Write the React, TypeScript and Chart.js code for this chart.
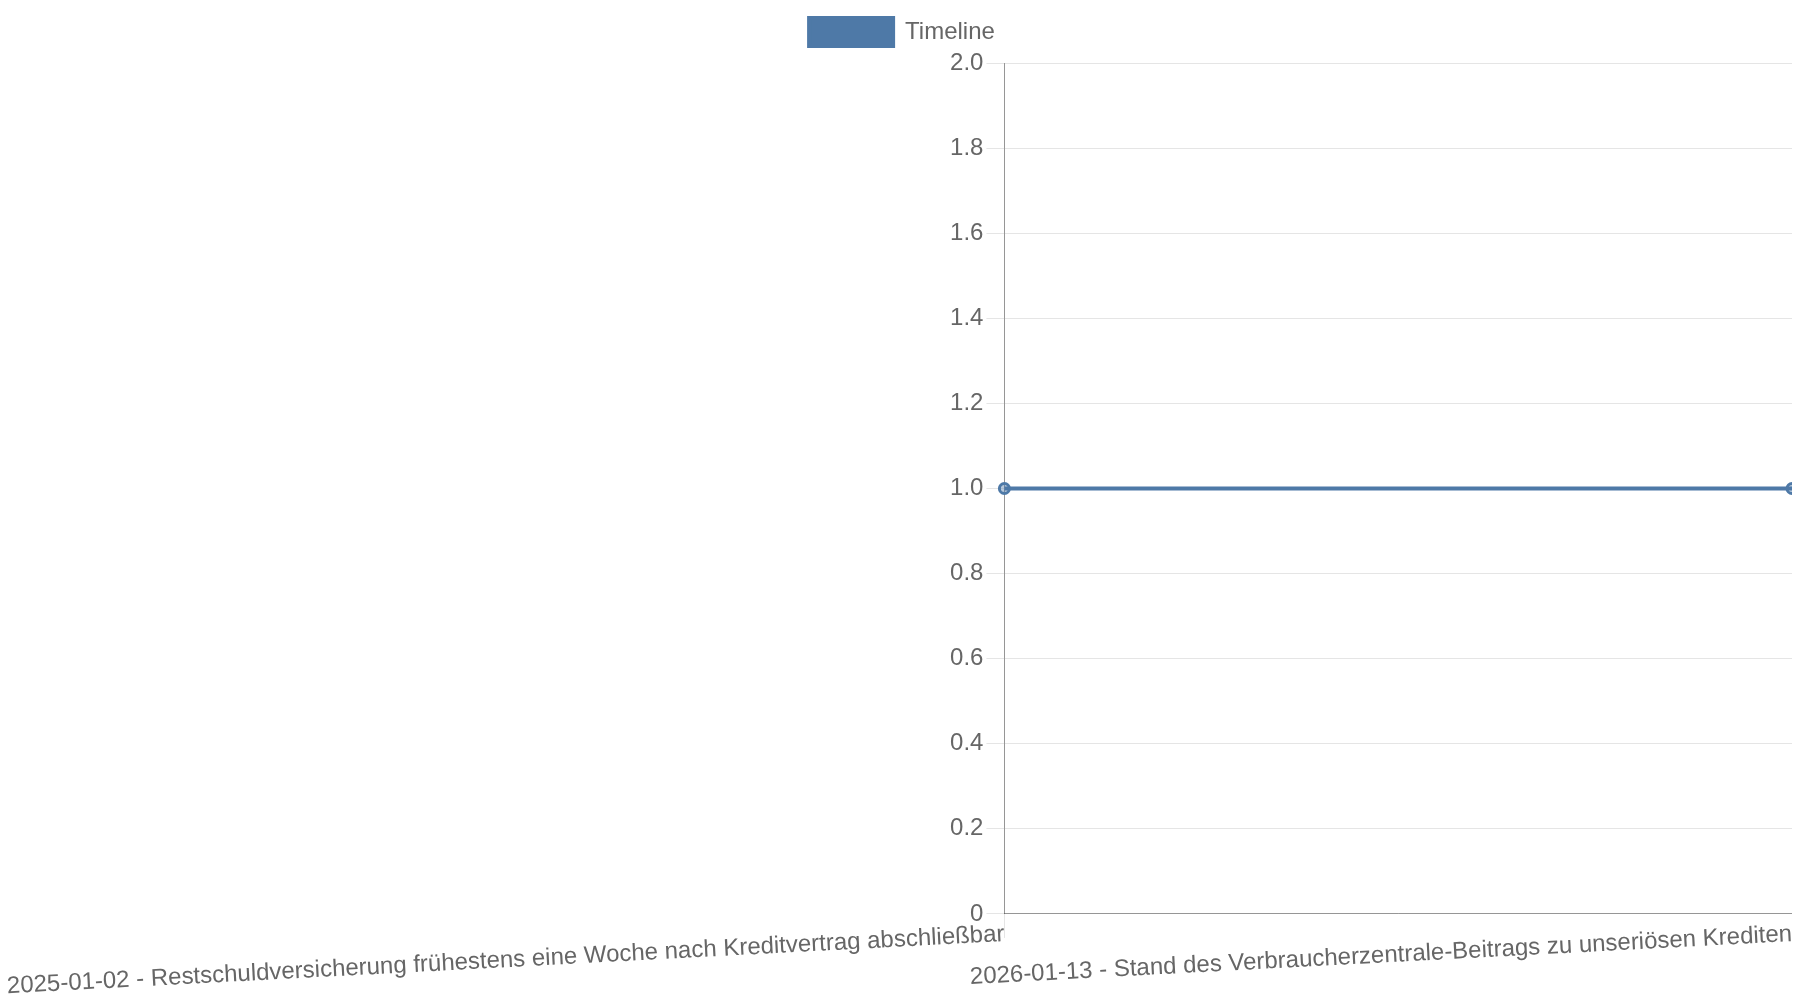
import React, { useEffect, useRef } from "react";
import Chart from "chart.js/auto";

const labels = [
  "2025-01-02 - Restschuldversicherung frühestens eine Woche nach Kreditvertrag abschließbar",
  "2026-01-13 - Stand des Verbraucherzentrale-Beitrags zu unseriösen Krediten",
];
const timelineValues = [1, 1];
const yMin = 0;
const yMax = 2;
const yStep = 0.2;

const blue = "#4e79a7";

// legend in the reference leaves a little more room above the plot
const legendSpace = {
  id: "legendSpace",
  beforeInit(chart: any) {
    const fit = chart.legend.fit;
    chart.legend.fit = function () {
      fit.bind(chart.legend)();
      this.height += 7;
    };
  },
};

const App = () => {
  const ref = useRef<HTMLCanvasElement>(null);

  useEffect(() => {
    document.body.style.overflow = "hidden";
    const ctx = ref.current!.getContext("2d") as CanvasRenderingContext2D;
    Chart.defaults.font.size = 24;
    Chart.defaults.color = "#666";

    const chart = new Chart(ctx, {
      type: "line",
      data: {
        labels: labels,
        datasets: [
          {
            label: "Timeline",
            data: timelineValues,
            borderColor: blue,
            backgroundColor: blue,
            borderWidth: 4,
            pointRadius: 5,
            pointBorderWidth: 3,
            pointBackgroundColor: "rgba(78,121,167,0.4)",
            fill: false,
          },
        ],
      },
      options: {
        animation: false,
        responsive: true,
        maintainAspectRatio: false,
        plugins: {
          legend: {
            labels: { boxWidth: 84, boxHeight: 28 },
          },
          tooltip: { enabled: false },
        },
        scales: {
          x: {
            grid: { tickLength: 24, color: "rgba(0,0,0,0.1)" },
            border: { color: "rgba(0,0,0,0.35)" },
            // labels sit up inside the long tick marks
            ticks: { padding: -18, minRotation: 3, maxRotation: 3 },
            afterFit: (s: any) => {
              s.paddingLeft += 21;
              s.paddingRight = Math.max(s.paddingRight, 7);
              s.height += 24;
            },
          },
          y: {
            min: yMin,
            max: yMax,
            grid: { tickLength: 18, color: "rgba(0,0,0,0.1)" },
            border: { color: "rgba(0,0,0,0.35)" },
            ticks: { stepSize: yStep, padding: 3 },
          },
        },
      },
      plugins: [legendSpace],
    } as any);

    return () => chart.destroy();
  }, []);

  return (
    <div style={{ position: "relative", height: "999px", margin: "0 -8px 0 -4px" }}>
      <canvas ref={ref}></canvas>
    </div>
  );
};

export default App;
